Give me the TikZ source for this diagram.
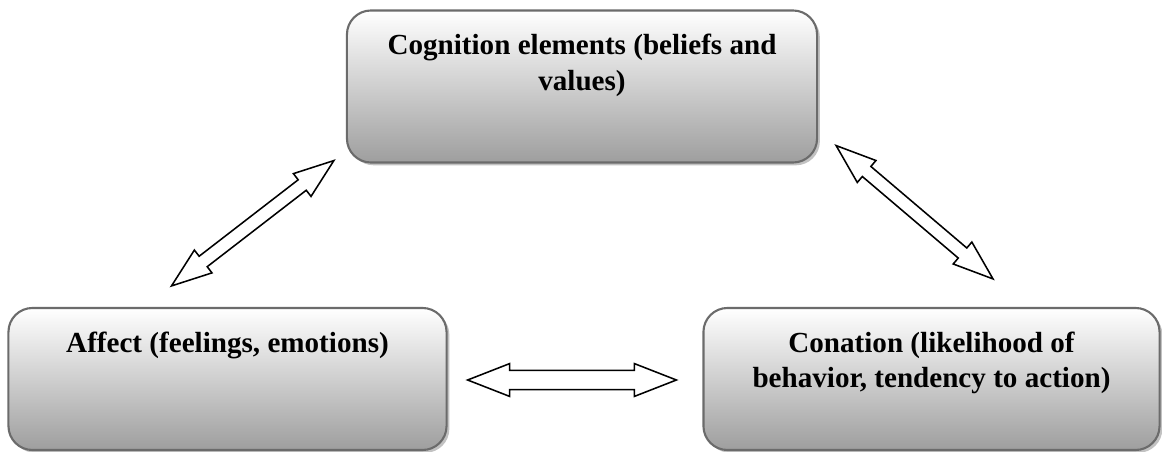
\documentclass[tikz,border=0pt]{standalone}
\usepackage{fontspec}
\setmainfont{Liberation Serif}
\usetikzlibrary{calc,shadows}

\newcommand{\blocktext}[3]{\parbox[c][#2][t]{#1}{\centering\vspace*{0.6cm}#3}}

\begin{document}
\begin{tikzpicture}[x=0.025cm,y=-0.025cm,
	block/.style={draw=black!58, line width=1.5pt, rounded corners=0.6cm, inner sep=0pt,
		top color=white, bottom color=black!38,
		drop shadow={shadow xshift=0.07cm, shadow yshift=-0.07cm, fill=black!40, opacity=0.6},
		font=\fontsize{20.7}{25.2}\selectfont\bfseries},
	fatarrow/.style args={#1/#2/#3}{draw=black, line width=1.1pt, fill=white, line join=miter,
		to path={let \p1=(\tikztostart), \p2=(\tikztotarget), \n1={atan2(\y2-\y1,\x2-\x1)} in
			-- ($(\p1)+(\n1:#1)+(\n1+90:#3)$) -- ($(\p1)+(\n1:#1)+(\n1+90:#2)$)
			-- ($(\p2)+(\n1+180:#1)+(\n1+90:#2)$) -- ($(\p2)+(\n1+180:#1)+(\n1+90:#3)$)
			-- (\p2)
			-- ($(\p2)+(\n1+180:#1)+(\n1-90:#3)$) -- ($(\p2)+(\n1+180:#1)+(\n1-90:#2)$)
			-- ($(\p1)+(\n1:#1)+(\n1-90:#2)$) -- ($(\p1)+(\n1:#1)+(\n1-90:#3)$)
			-- cycle}}]
				\useasboundingbox (0,0) rectangle (1162,452);
				%top block and the two lower blocks placed by hand
				\node[block] (cog) at (582,86.5){\blocktext{11.75cm}{3.8cm}{Cognition elements (beliefs and\\ values)}};
				\node[block] (aff) at (227.5,379){\blocktext{10.95cm}{3.55cm}{Affect (feelings, emotions)}};
				\node[block] (con) at (931.5,379){\blocktext{11.4cm}{3.55cm}{Conation (likelihood of\\ behavior, tendency to action)}};
				%% double headed block arrows between the blocks
				\draw [fatarrow=1cm/0.165cm/0.36cm]([shift={(-56,-21)}]aff.north) to ([shift={(-12,-3)}]cog.south west);
				\draw [fatarrow=1cm/0.165cm/0.36cm]([shift={(18,-18)}]cog.south east) to ([shift={(61.5,-28)}]con.north);
				\draw [fatarrow=1.05cm/0.24cm/0.41cm]([shift={(20,1)}]aff.east) to ([shift={(-26,1)}]con.west);

				\end{tikzpicture}
\end{document}
